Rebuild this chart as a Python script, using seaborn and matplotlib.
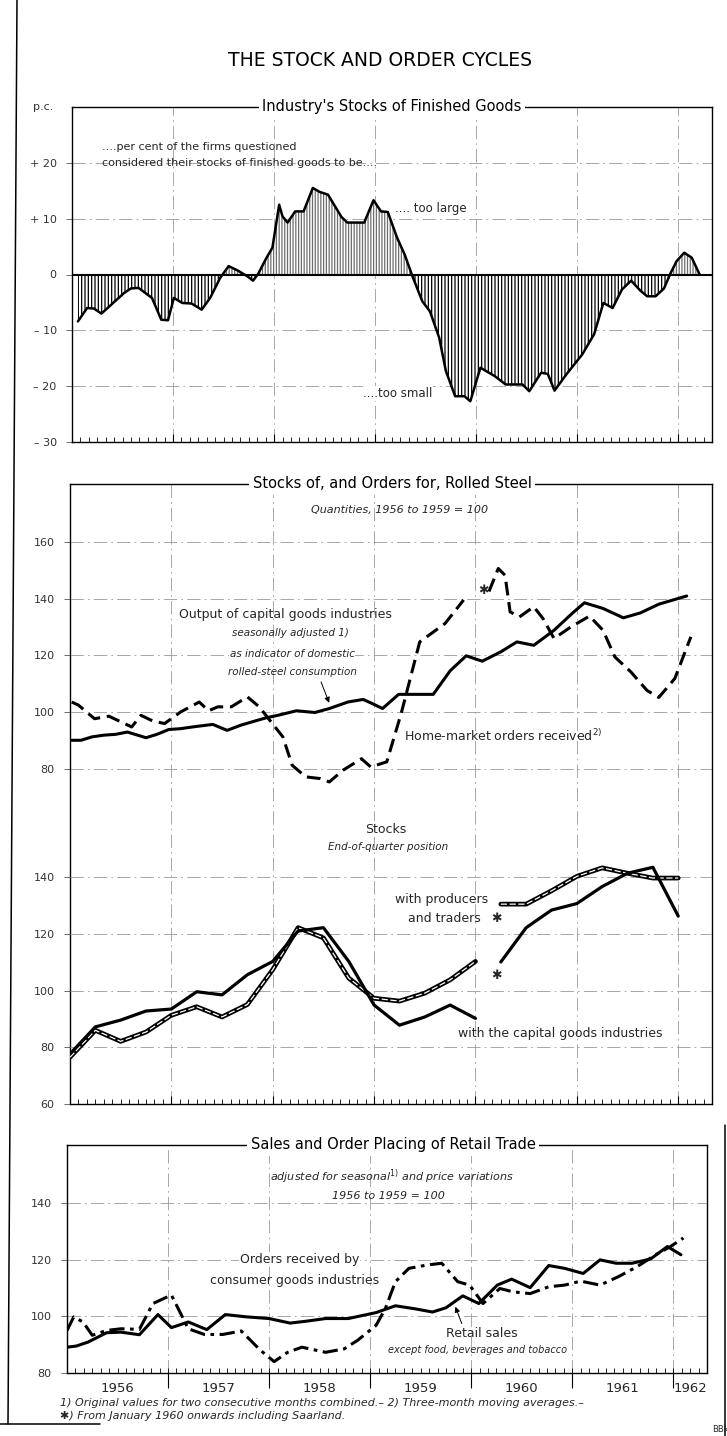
import numpy as np
import matplotlib
matplotlib.use("Agg")
import matplotlib.pyplot as plt
import matplotlib.transforms as mtransforms
from matplotlib.lines import Line2D
import seaborn as sns

# x positions are months counted from the start of January 1956

# Industry's stocks of finished goods: balance "too large" minus "too small", p.c.
stock_months = [0.7, 1.8, 2.6, 3.5, 5.1, 6.2, 7.0, 7.9, 8.7, 9.5, 10.6, 11.4, 12.1, 13.1, 14.2,
                15.4, 16.4, 17.6, 18.6, 19.7, 20.8, 21.5, 22.1, 23.1, 23.8, 24.6, 25.0, 25.6, 26.5,
                27.5, 28.6, 29.4, 30.4, 32.0, 32.7, 34.7, 35.8, 36.7, 37.5, 38.6, 39.5, 40.5, 41.6,
                42.5, 43.6, 44.4, 45.5, 46.6, 47.3, 48.5, 50.2, 51.5, 53.5, 54.3, 55.7, 56.5, 57.3,
                58.7, 60.6, 62.0, 63.1, 64.2, 65.3, 66.4, 67.5, 68.3, 69.3, 70.3, 71.1, 71.8, 72.7,
                73.6, 74.5]
stock_pct = [-8.4, -6.0, -6.1, -7.0, -4.8, -3.3, -2.5, -2.4, -3.3, -4.2, -8.1, -8.2, -4.2, -5.1, -5.2,
             -6.3, -4.2, -0.6, 1.5, 0.7, -0.3, -1.1, 0.1, 3.0, 4.8, 12.5, 10.4, 9.3, 11.3,
             11.3, 15.5, 14.8, 14.3, 10.3, 9.3, 9.3, 13.3, 11.3, 11.2, 6.6, 3.6, -0.6, -4.8,
             -6.6, -11.3, -17.3, -21.8, -21.8, -22.7, -16.7, -18.2, -19.7, -19.7, -20.9, -17.6, -17.8, -20.8,
             -17.9, -14.3, -10.7, -5.1, -6.0, -2.7, -1.1, -2.9, -3.9, -3.9, -2.5, 0.3, 2.4, 3.9,
             3.0, 0.1]

# Output of capital goods industries (1956 to 1959 = 100)
output_months = [0.2, 1.3, 2.6, 4.0, 5.4, 6.8, 9.0, 10.3, 11.7, 13.1, 14.5, 16.9, 18.6, 20.2, 21.9,
                 23.2, 24.6, 26.8, 29.0, 30.7, 32.9, 34.7, 35.6, 37.0, 38.9, 41.1, 43.0, 45.0, 46.9,
                 48.8, 51.0, 52.9, 54.9, 57.3, 59.5, 60.9, 63.1, 65.5, 67.5, 69.7, 73.0]
output_index = [90.0, 90.0, 91.2, 91.8, 92.1, 92.9, 90.9, 92.1, 93.8, 94.1, 94.7, 95.6, 93.5, 95.3, 96.8,
                97.9, 98.8, 100.4, 99.8, 101.2, 103.5, 104.4, 103.2, 101.2, 106.2, 106.2, 106.2, 114.5, 119.8,
                117.9, 121.2, 124.7, 123.5, 128.8, 134.9, 138.5, 136.5, 133.2, 134.9, 138.0, 140.9]

# Home-market orders for rolled steel, up to 1959 and from January 1960 (incl. Saarland)
orders_months_a = [0.2, 1.0, 2.9, 4.6, 7.3, 8.4, 9.8, 11.2, 13.1, 15.3, 16.4, 17.5, 19.1, 21.0,
                   22.4, 25.2, 26.3, 27.9, 29.6, 30.7, 32.3, 34.5, 35.6, 37.5, 39.2, 41.4, 44.4, 46.6]
orders_index_a = [103.5, 102.4, 97.6, 98.5, 94.7, 98.8, 96.8, 95.9, 100.0, 103.5, 100.4, 101.8, 101.8, 105.3,
                  101.8, 91.2, 81.2, 77.1, 76.5, 75.3, 79.4, 83.5, 80.6, 82.4, 99.4, 124.7, 131.2, 139.5]
orders_months_b = [49.6, 50.7, 51.5, 52.1, 53.2, 54.9, 56.0, 57.3, 59.3, 61.5, 63.1, 64.5, 66.4,
                   68.3, 69.7, 71.6, 73.5]
orders_index_b = [142.5, 150.6, 148.2, 135.3, 133.5, 137.1, 132.9, 125.9, 130.0, 133.8, 128.8, 119.4, 114.1,
                  107.6, 105.1, 111.8, 126.5]

# Rolled-steel stocks, end of quarter
quarters_a = [0, 3, 6, 9, 12, 15, 18, 21, 24, 27, 30, 33, 36, 39, 42, 45, 48]
capgoods_stock_a = [77.7, 87.2, 89.6, 92.8, 93.5, 99.6, 98.5, 105.6, 110.3, 121.0, 122.2, 110.3,
                    94.9, 87.8, 90.7, 94.9, 90.2]
producers_stock_a = [76.5, 86.0, 82.1, 85.4, 91.3, 94.3, 90.7, 95.1, 107.4, 122.2, 118.6, 104.4,
                     97.3, 96.3, 99.1, 103.8, 110.3]
quarters_b = [51, 54, 57, 60, 63, 66, 69, 72]
capgoods_stock_b = [110.1, 122.2, 128.4, 130.7, 136.7, 141.4, 143.5, 126.3]
producers_stock_b = [130.5, 130.5, 135.2, 140.3, 143.3, 141.4, 139.7, 139.7]

# Retail trade
retail_months = [0, 1.1, 2.5, 4.7, 6.4, 8.6, 10.8, 12.4, 14.4, 16.6, 18.8, 21.3, 24.0, 26.5, 28.5,
                 30.7, 33.4, 34.8, 36.7, 39.0, 41.2, 43.4, 45.0, 47.0, 48.9, 51.1, 52.8, 55.0, 57.2,
                 59.1, 61.3, 63.3, 65.2, 67.1, 69.3, 71.3, 72.9]
retail_sales = [89.1, 89.5, 90.9, 94.2, 94.4, 93.5, 100.6, 96.0, 98.0, 95.3, 100.6, 99.8, 99.2, 97.6, 98.3,
                99.2, 99.2, 100.1, 101.3, 103.7, 102.7, 101.5, 103.0, 107.2, 104.5, 111.0, 113.1, 110.1, 117.9,
                116.9, 115.1, 119.9, 118.7, 118.7, 120.2, 124.6, 121.7]
consumer_months = [0, 0.8, 1.9, 3.0, 4.7, 6.4, 8.6, 10.2, 12.4, 14.4, 16.3, 18.5, 20.7, 22.9, 24.6,
                   26.2, 27.9, 30.7, 32.9, 34.5, 36.7, 37.8, 39.0, 40.6, 42.8, 44.5, 46.4, 47.8, 49.4,
                   51.4, 53.0, 55.0, 57.2, 59.1, 61.0, 63.3, 65.5, 67.7, 69.9, 71.5, 73.2]
consumer_orders = [95.0, 99.8, 98.0, 93.3, 95.0, 95.6, 95.4, 104.5, 107.5, 95.6, 93.6, 93.6, 94.8, 88.2, 84.0,
                   87.3, 89.1, 87.3, 88.5, 91.5, 96.8, 102.7, 112.2, 116.9, 118.1, 118.7, 112.2, 111.0, 104.5,
                   109.8, 108.6, 108.0, 110.4, 111.0, 112.4, 111.0, 114.0, 117.5, 121.7, 124.3, 127.6]

year_labels = ["1956", "1957", "1958", "1959", "1960", "1961", "1962"]
year_label_pos = [6, 18, 30, 42, 54, 66, 74]
year_bounds = [12, 24, 36, 48, 60, 72]

pc_ticks = [20, 10, 0, -10, -20, -30]
pc_labels = ["+ 20", "+ 10", "0", "– 10", "– 20", "– 30"]
steel_upper_ticks = [160, 140, 120, 100, 80]
steel_lower_ticks = [140, 120, 100, 80, 60]
retail_ticks = [140, 120, 100, 80]

sns.set_theme(style="white")
plt.rcParams["font.family"] = ["DejaVu Sans"]
plt.rcParams["hatch.linewidth"] = 0.9

W, H = 727, 1436
fig = plt.figure(figsize=(W / 100, H / 100), dpi=100)
fig.patch.set_facecolor("white")

GRID = dict(color="#999999", lw=0.6, ls=(0, (16, 5, 2, 5)), zorder=0)
INK = "black"
DASH = (0, (4.5, 2.2))
DASHDOT = (0, (5, 1.8, 1.2, 1.8))


def rect(left, right, top, bottom):
    return [left / W, 1 - bottom / H, (right - left) / W, (bottom - top) / H]


def style_y(ax, ticks, labels=None):
    ax.set_yticks(ticks, labels if labels else [str(t) for t in ticks])
    ax.tick_params(axis="y", which="both", direction="out", length=4, width=0.6,
                   labelsize=8, labelcolor="#333333", color="#555555", left=True, pad=7)


def frame(ax, ylim, ticks, labels=None, grid_ticks=None):
    ax.set_xlim(0, 76)
    ax.set_ylim(*ylim)
    ax.set_facecolor("none")
    for s in ax.spines.values():
        s.set_color(INK)
        s.set_linewidth(1.0)
    ax.set_xticks(year_bounds)
    ax.set_xticks(range(1, 76), minor=True)
    ax.tick_params(axis="x", which="both", direction="in", bottom=True, labelbottom=False,
                   color=INK)
    ax.tick_params(axis="x", which="major", length=6, width=0.8)
    ax.tick_params(axis="x", which="minor", length=3.5, width=0.6)
    style_y(ax, ticks, labels)
    for t in (grid_ticks if grid_ticks is not None else ticks):
        ax.axhline(t, **GRID)
    for yb in year_bounds:
        ax.axvline(yb, **GRID)
    ax.set_xlabel("")
    ax.set_ylabel("")


def header(ax, x, text):
    ax.text(x, 1.0, text, transform=ax.transAxes, ha="center", va="center", fontsize=10.5,
            color=INK, zorder=20, clip_on=False,
            bbox=dict(facecolor="white", edgecolor="none", pad=2.5))


fig.text(380 / W, 1 - 60 / H, "THE STOCK AND ORDER CYCLES", ha="center", va="center",
         fontsize=13.5, color=INK)

# ---------------- Panel 1: stocks of finished goods ----------------
ax1 = fig.add_axes(rect(72, 712, 107, 442))
frame(ax1, (-30, 30), pc_ticks, pc_labels, grid_ticks=[20, 10, -10, -20])
sm = np.array(stock_months)
sv = np.array(stock_pct)
ax1.fill_between(sm, sv, 0, where=sv >= 0, interpolate=True, facecolor="white",
                 edgecolor="#6e6e6e", hatch="||||||", linewidth=0, zorder=1)
ax1.fill_between(sm, sv, 0, where=sv <= 0, interpolate=True, facecolor="white",
                 edgecolor=INK, hatch="|||||", linewidth=0, zorder=1)
ax1.axhline(0, color=INK, lw=1.5, zorder=2)
sns.lineplot(x=stock_months, y=stock_pct, ax=ax1, color=INK, lw=1.8, estimator=None, zorder=3)
ax1.set_xlabel("")
ax1.set_ylabel("")
header(ax1, 0.5, "Industry's Stocks of Finished Goods")
ax1.text(-0.045, 1.0, "p.c.", transform=ax1.transAxes, ha="center", va="center",
         fontsize=8, color="#333333")
ax1.text(3.6, 22.9, "....per cent of the firms questioned", fontsize=8, ha="left", va="center")
ax1.text(3.6, 19.9, "considered their stocks of finished goods to be....", fontsize=8,
         ha="left", va="center")
ax1.text(38.4, 11.8, ".... too large", fontsize=8.5, ha="left", va="center")
ax1.text(34.6, -21.3, "....too small", fontsize=8.5, ha="left", va="center",
         bbox=dict(facecolor="white", edgecolor="none", pad=0.5))

# ---------------- Panel 2: rolled steel ----------------
p2 = rect(70, 712, 484, 1104)
ax2 = fig.add_axes(p2)
frame(ax2, (-38.3, 180.4), steel_upper_ticks)
ax2b = fig.add_axes(p2)
ax2b.set_xlim(0, 76)
ax2b.set_ylim(60, 278.7)
ax2b.set_facecolor("none")
for s in ax2b.spines.values():
    s.set_visible(False)
ax2b.set_xticks([])
style_y(ax2b, steel_lower_ticks)
for t in steel_lower_ticks[:-1]:
    ax2b.axhline(t, **GRID)

sns.lineplot(x=output_months, y=output_index, ax=ax2, color=INK, lw=2.2, estimator=None, zorder=4)
sns.lineplot(x=orders_months_a, y=orders_index_a, ax=ax2, color=INK, lw=2.2, estimator=None,
             linestyle=DASH, zorder=4)
sns.lineplot(x=orders_months_b, y=orders_index_b, ax=ax2, color=INK, lw=2.2, estimator=None,
             linestyle=DASH, zorder=4)
for ax_ in (ax2, ax2b):
    ax_.set_xlabel("")
    ax_.set_ylabel("")

for q, v in ((quarters_a, producers_stock_a), (quarters_b, producers_stock_b)):
    sns.lineplot(x=q, y=v, ax=ax2b, color=INK, lw=3.4, estimator=None, zorder=4)
    sns.lineplot(x=q, y=v, ax=ax2b, color="white", lw=0.9, estimator=None,
                 linestyle=(0, (5, 2)), zorder=5)
sns.lineplot(x=quarters_a, y=capgoods_stock_a, ax=ax2b, color=INK, lw=2.3, estimator=None, zorder=6)
sns.lineplot(x=quarters_b, y=capgoods_stock_b, ax=ax2b, color=INK, lw=2.3, estimator=None, zorder=6)
ax2b.set_xlabel("")
ax2b.set_ylabel("")

header(ax2, 0.502, "Stocks of, and Orders for, Rolled Steel")
ax2.text(39.0, 171.3, "Quantities, 1956 to 1959 = 100", fontsize=8, style="italic",
         ha="center", va="center")
ax2.text(25.5, 134.2, "Output of capital goods industries", fontsize=9, ha="center", va="center")
ax2.text(26.1, 127.9, "seasonally adjusted 1)", fontsize=7.5, style="italic", ha="center", va="center")
ax2.text(26.3, 120.5, "as indicator of domestic", fontsize=7.5, style="italic", ha="center",
         va="center", bbox=dict(facecolor="white", edgecolor="none", pad=0.5))
ax2.text(26.3, 114.1, "rolled-steel consumption", fontsize=7.5, style="italic", ha="center", va="center")
ax2.annotate("", xy=(30.8, 102.3), xytext=(29.6, 111.5),
             arrowprops=dict(arrowstyle="-|>", color=INK, lw=0.7, mutation_scale=8))
ax2.text(39.5, 91.5, "Home-market orders received$^{2)}$", fontsize=9, ha="left", va="center")
ax2.text(49.0, 143.0, "✱", fontsize=9, ha="center", va="center")

ax2b.text(37.4, 157.0, "Stocks", fontsize=9, ha="center", va="center",
          bbox=dict(facecolor="white", edgecolor="none", pad=0.8))
ax2b.text(37.7, 150.7, "End-of-quarter position", fontsize=7.5, style="italic",
          ha="center", va="center")
ax2b.text(49.5, 132.0, "with producers", fontsize=9, ha="right", va="center")
ax2b.text(48.6, 125.6, "and traders", fontsize=9, ha="right", va="center")
ax2b.text(50.5, 125.6, "✱", fontsize=9, ha="center", va="center")
ax2b.text(50.5, 105.5, "✱", fontsize=9, ha="center", va="center")
ax2b.text(45.9, 85.0, "with the capital goods industries", fontsize=9, ha="left", va="center")

# ---------------- Panel 3: retail trade ----------------
ax3 = fig.add_axes(rect(67, 707, 1145, 1373))
frame(ax3, (80, 160.4), retail_ticks, grid_ticks=[140, 120, 100])
ax3.xaxis.remove_overlapping_locs = False
ax3.set_xticks(range(1, 76), minor=True)
ax3.tick_params(axis="x", which="major", direction="out", length=11, width=0.8)
sns.lineplot(x=retail_months, y=retail_sales, ax=ax3, color=INK, lw=2.2, estimator=None, zorder=4)
sns.lineplot(x=consumer_months, y=consumer_orders, ax=ax3, color=INK, lw=2.2, estimator=None,
             linestyle=DASHDOT, zorder=4)
ax3.set_xlabel("")
ax3.set_ylabel("")
header(ax3, 0.51, "Sales and Order Placing of Retail Trade")
ax3.text(38.6, 149.1, "adjusted for seasonal$^{1)}$ and price variations", fontsize=8,
         style="italic", ha="center", va="center")
ax3.text(38.2, 142.4, "1956 to 1959 = 100", fontsize=8, style="italic", ha="center", va="center")
ax3.text(27.6, 119.9, "Orders received by", fontsize=9, ha="center", va="center",
         bbox=dict(facecolor="white", edgecolor="none", pad=0.8))
ax3.text(27.0, 112.5, "consumer goods industries", fontsize=9, ha="center", va="center")
ax3.text(49.3, 93.8, "Retail sales", fontsize=9, ha="center", va="center")
ax3.text(48.7, 88.1, "except food, beverages and tobacco", fontsize=7, style="italic",
         ha="center", va="center")
ax3.annotate("", xy=(46.0, 104.3), xytext=(47.0, 96.5),
             arrowprops=dict(arrowstyle="-|>", color=INK, lw=0.7, mutation_scale=8))
trans = mtransforms.blended_transform_factory(ax3.transData, ax3.transAxes)
for pos, lab in zip(year_label_pos, year_labels):
    ax3.text(pos, -0.066, lab, transform=trans, ha="center", va="center", fontsize=9.5,
             fontweight="medium", clip_on=False)

fig.text(60 / W, 1 - 1403 / H,
         "1) Original values for two consecutive months combined.– 2) Three-month moving averages.–",
         fontsize=8, style="italic", ha="left", va="center")
fig.text(60 / W, 1 - 1416 / H, "✱) From January 1960 onwards including Saarland.",
         fontsize=8, style="italic", ha="left", va="center")
fig.text(712 / W, 1 - 1430 / H, "BBk", fontsize=6, ha="left", va="center")

# scanned page border
fig.add_artist(Line2D([17 / W, 8 / W], [1.0, 1 - 1424 / H], transform=fig.transFigure,
                      color=INK, lw=1.1))
fig.add_artist(Line2D([0, 100 / W], [1 - 1424 / H, 1 - 1424 / H], transform=fig.transFigure,
                      color=INK, lw=1.1))
fig.add_artist(Line2D([725 / W, 725 / W], [1 - 1125 / H, 0], transform=fig.transFigure,
                      color=INK, lw=1.1))

fig.savefig("out.png", dpi=100, facecolor="white")
